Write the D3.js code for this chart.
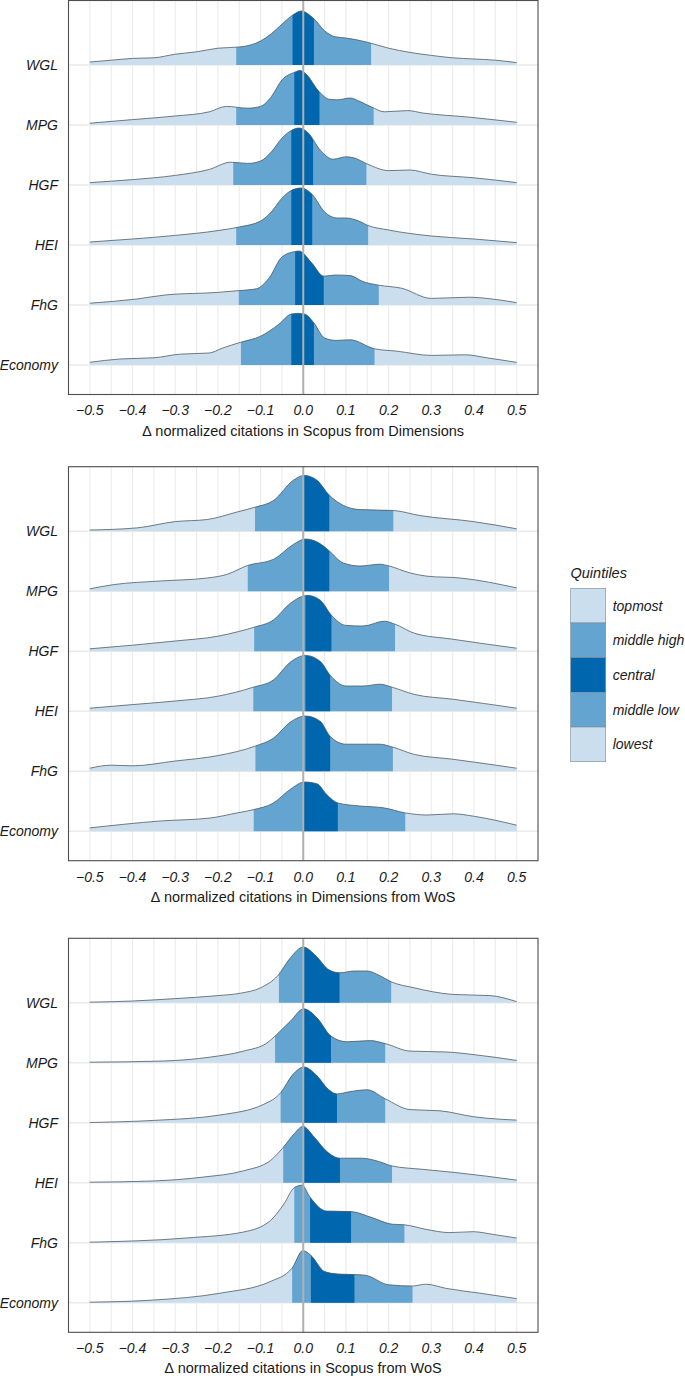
<!DOCTYPE html>
<html><head><meta charset="utf-8">
<script src="https://cdn.jsdelivr.net/npm/d3@7"></script>
<style>body{margin:0;background:#fff}svg{display:block}text{font-family:"Liberation Sans",Arial,sans-serif}</style>
</head><body><svg id="chart" width="685" height="1376"></svg>
<script>
// ---------- data ----------
const organisations = ["WGL","MPG","HGF","HEI","FhG","Economy"];
const xTicks = [-0.5,-0.4,-0.3,-0.2,-0.1,0.0,0.1,0.2,0.3,0.4,0.5];
const gridSteps = [-0.5,-0.45,-0.4,-0.35,-0.3,-0.25,-0.2,-0.15,-0.1,-0.05,0,0.05,0.1,0.15,0.2,0.25,0.3,0.35,0.4,0.45,0.5];
const panelTitles = ["normalized citations in Scopus from Dimensions","normalized citations in Dimensions from WoS","normalized citations in Scopus from WoS"];
const quintileLabels = ["topmost","middle high","central","middle low","lowest"];

// density (scaled, 1 = ridge spacing) as [delta, density]
const densScopusDim = [
 [[-0.5,.05],[-0.45,.08],[-0.4,.11],[-0.35,.12],[-0.3,.18],[-0.25,.22],[-0.2,.28],[-0.15,.30],[-0.1,.40],[-0.075,.52],[-0.05,.68],[-0.025,.83],[-0.005,.90],[0.025,.77],[0.05,.57],[0.075,.47],[0.1,.45],[0.125,.42],[0.15,.38],[0.2,.28],[0.25,.21],[0.3,.16],[0.35,.12],[0.4,.10],[0.45,.08],[0.5,.04]],
 [[-0.5,.03],[-0.4,.09],[-0.3,.15],[-0.22,.22],[-0.18,.31],[-0.13,.28],[-0.1,.31],[-0.075,.47],[-0.05,.75],[-0.02,.88],[-0.008,.91],[0.005,.86],[0.038,.55],[0.06,.43],[0.08,.42],[0.11,.45],[0.133,.39],[0.16,.30],[0.19,.22],[0.245,.24],[0.28,.20],[0.39,.13],[0.5,.045]],
 [[-0.5,.04],[-0.4,.09],[-0.3,.16],[-0.22,.26],[-0.17,.38],[-0.13,.36],[-0.1,.40],[-0.075,.55],[-0.05,.78],[-0.025,.92],[-0.01,.95],[0.01,.88],[0.04,.58],[0.07,.43],[0.1,.47],[0.12,.45],[0.15,.35],[0.2,.24],[0.25,.25],[0.3,.18],[0.4,.12],[0.5,.04]],
 [[-0.5,.05],[-0.4,.10],[-0.3,.16],[-0.2,.24],[-0.15,.30],[-0.1,.40],[-0.075,.55],[-0.05,.78],[-0.025,.92],[-0.005,.95],[0.02,.85],[0.05,.55],[0.08,.45],[0.1,.45],[0.13,.40],[0.15,.33],[0.2,.25],[0.3,.15],[0.4,.10],[0.5,.04]],
 [[-0.5,.03],[-0.39,.10],[-0.32,.17],[-0.2,.21],[-0.15,.24],[-0.11,.27],[-0.08,.45],[-0.05,.80],[-0.02,.89],[-0.01,.90],[0.02,.70],[0.048,.48],[0.075,.50],[0.11,.49],[0.14,.39],[0.177,.33],[0.23,.28],[0.3,.11],[0.39,.13],[0.43,.11],[0.5,.04]],
 [[-0.5,.045],[-0.43,.10],[-0.35,.12],[-0.29,.18],[-0.22,.20],[-0.19,.28],[-0.146,.38],[-0.1,.48],[-0.057,.68],[-0.028,.85],[-0.012,.86],[0.003,.85],[0.025,.70],[0.05,.45],[0.077,.41],[0.11,.42],[0.167,.27],[0.22,.23],[0.3,.16],[0.38,.17],[0.43,.12],[0.5,.045]]
];
const cutsScopusDim = [
 [-0.157,-0.025,0.025,0.159],[-0.157,-0.021,0.038,0.165],[-0.164,-0.028,0.023,0.148],
 [-0.157,-0.028,0.021,0.152],[-0.151,-0.019,0.048,0.177],[-0.146,-0.028,0.025,0.167]
];

const densDimWos = [
 [[-0.5,.02],[-0.39,.055],[-0.3,.16],[-0.225,.195],[-0.155,.32],[-0.113,.40],[-0.07,.51],[-0.023,.85],[0.002,.93],[0.032,.85],[0.061,.60],[0.094,.43],[0.133,.36],[0.211,.345],[0.274,.26],[0.399,.16],[0.5,.04]],
 [[-0.5,.04],[-0.444,.11],[-0.335,.17],[-0.225,.22],[-0.179,.28],[-0.13,.43],[-0.07,.53],[-0.023,.78],[0.005,.87],[0.048,.75],[0.061,.67],[0.094,.47],[0.133,.42],[0.18,.45],[0.201,.42],[0.25,.305],[0.29,.25],[0.368,.22],[0.5,.055]],
 [[-0.5,.04],[-0.4,.10],[-0.3,.17],[-0.2,.25],[-0.15,.33],[-0.115,.40],[-0.07,.52],[-0.03,.80],[0.01,.93],[0.04,.85],[0.066,.60],[0.1,.43],[0.14,.42],[0.19,.50],[0.215,.45],[0.26,.30],[0.35,.20],[0.5,.05]],
 [[-0.5,.05],[-0.4,.11],[-0.3,.17],[-0.2,.25],[-0.117,.40],[-0.07,.52],[-0.03,.82],[0.005,.93],[0.04,.83],[0.063,.60],[0.1,.42],[0.14,.42],[0.18,.45],[0.208,.40],[0.26,.28],[0.35,.20],[0.5,.05]],
 [[-0.5,.05],[-0.45,.10],[-0.4,.09],[-0.3,.17],[-0.2,.26],[-0.112,.42],[-0.07,.55],[-0.03,.82],[0.005,.92],[0.04,.83],[0.063,.58],[0.1,.45],[0.15,.45],[0.18,.45],[0.21,.40],[0.26,.28],[0.35,.20],[0.5,.05]],
 [[-0.5,.055],[-0.335,.17],[-0.218,.22],[-0.155,.305],[-0.116,.36],[-0.07,.47],[-0.03,.70],[0.003,.82],[0.032,.79],[0.055,.61],[0.081,.47],[0.133,.42],[0.188,.39],[0.239,.305],[0.29,.27],[0.352,.29],[0.399,.25],[0.5,.10]]
];
const cutsDimWos = [
 [-0.113,0.002,0.061,0.211],[-0.13,0.002,0.061,0.201],[-0.115,0.005,0.066,0.215],
 [-0.117,0.005,0.063,0.208],[-0.112,0.005,0.063,0.21],[-0.116,0.0,0.081,0.239]
];

const densScopusWos = [
 [[-0.5,.01],[-0.4,.03],[-0.3,.07],[-0.2,.12],[-0.147,.16],[-0.1,.25],[-0.06,.45],[-0.03,.75],[0.0,.93],[0.03,.78],[0.06,.55],[0.085,.50],[0.12,.53],[0.15,.53],[0.18,.45],[0.206,.35],[0.26,.25],[0.35,.14],[0.438,.12],[0.5,.02]],
 [[-0.5,.01],[-0.327,.03],[-0.218,.095],[-0.14,.195],[-0.085,.33],[-0.066,.445],[-0.03,.695],[0.001,.90],[0.032,.75],[0.065,.445],[0.102,.35],[0.157,.37],[0.192,.32],[0.25,.195],[0.336,.18],[0.407,.13],[0.5,.04]],
 [[-0.5,.005],[-0.35,.04],[-0.195,.13],[-0.092,.31],[-0.053,.50],[-0.025,.80],[0.002,.93],[0.03,.80],[0.06,.55],[0.079,.48],[0.11,.52],[0.15,.55],[0.192,.40],[0.25,.22],[0.32,.20],[0.4,.10],[0.5,.045]],
 [[-0.5,.01],[-0.353,.03],[-0.235,.095],[-0.14,.20],[-0.077,.37],[-0.047,.59],[-0.021,.82],[-0.001,.94],[0.026,.76],[0.054,.53],[0.086,.41],[0.137,.41],[0.177,.355],[0.208,.28],[0.279,.225],[0.358,.17],[0.5,.045]],
 [[-0.5,.01],[-0.274,.08],[-0.14,.18],[-0.077,.37],[-0.045,.65],[-0.021,.92],[-0.003,.96],[0.016,.76],[0.054,.53],[0.112,.52],[0.161,.42],[0.208,.31],[0.237,.30],[0.287,.225],[0.343,.17],[0.398,.185],[0.445,.14],[0.5,.08]],
 [[-0.5,.01],[-0.353,.045],[-0.195,.16],[-0.077,.355],[-0.026,.58],[-0.001,.87],[0.018,.79],[0.05,.52],[0.081,.48],[0.12,.47],[0.145,.46],[0.2,.30],[0.256,.28],[0.287,.31],[0.335,.24],[0.414,.16],[0.5,.07]]
];
const cutsScopusWos = [
 [-0.057,0.002,0.085,0.206],[-0.066,0.002,0.065,0.192],[-0.053,0.001,0.079,0.192],
 [-0.047,0.002,0.086,0.208],[-0.021,0.016,0.112,0.237],[-0.026,0.018,0.12,0.256]
];

// ---------- layout / style ----------
const colLight = "#cadeee", colMid = "#64a4d0", colDark = "#0067ae";
const panels = [
  {top: 0.5, dens: densScopusDim, cuts: cutsScopusDim, title: panelTitles[0]},
  {top: 466.7, dens: densDimWos, cuts: cutsDimWos, title: panelTitles[1]},
  {top: 938.3, dens: densScopusWos, cuts: cutsScopusWos, title: panelTitles[2]}
];
const L = 68.5, R = 538, PH = 394, rowGap = 60, bottomPad = 29.5;

const svg = d3.select("#chart");
const x = d3.scaleLinear().domain([-0.55, 0.55]).range([L, R]);
const h = d3.scaleLinear().domain([0, 1]).range([0, rowGap]);
let clipId = 0;

panels.forEach((p, pi) => {
  const bottom = p.top + PH;
  const y = d3.scalePoint().domain(organisations)
     .range([bottom - bottomPad - rowGap*(organisations.length-1), bottom - bottomPad]);
  const g = svg.append("g");

  // vertical grid
  g.selectAll("line.vg").data(gridSteps).join("line")
    .attr("x1", d => x(d)).attr("x2", d => x(d))
    .attr("y1", p.top).attr("y2", bottom)
    .attr("stroke", "#ebebeb").attr("stroke-width", 1.1);
  // horizontal grid at baselines
  g.selectAll("line.hg").data(organisations).join("line")
    .attr("x1", L).attr("x2", R)
    .attr("y1", d => y(d)).attr("y2", d => y(d))
    .attr("stroke", "#ebebeb").attr("stroke-width", 1.4);

  organisations.forEach((org, i) => {
    const dens = p.dens[i], q = p.cuts[i], base = y(org);
    const area = d3.area().curve(d3.curveMonotoneX)
      .x(d => x(d[0])).y0(base).y1(d => base - h(d[1]));
    const line = d3.line().curve(d3.curveMonotoneX)
      .x(d => x(d[0])).y(d => base - h(d[1]));
    g.append("path").attr("d", area(dens)).attr("fill", colLight);
    [[q[0], q[3], colMid], [q[1], q[2], colDark]].forEach(([a, b, c]) => {
      const id = "clip" + (clipId++);
      svg.append("clipPath").attr("id", id).append("rect")
        .attr("x", x(a)).attr("width", x(b) - x(a))
        .attr("y", base - rowGap*1.2).attr("height", rowGap*1.2 + 1);
      g.append("path").attr("d", area(dens)).attr("fill", c).attr("clip-path", `url(#${id})`);
    });
    g.append("path").attr("d", line(dens)).attr("fill", "none")
      .attr("stroke", "#4f5a63").attr("stroke-width", 0.8);
  });

  // zero line
  g.append("line").attr("x1", x(0)).attr("x2", x(0)).attr("y1", p.top).attr("y2", bottom)
    .attr("stroke", "#b0b0b0").attr("stroke-width", 2);

  // panel border
  g.append("rect").attr("x", L).attr("y", p.top).attr("width", R - L).attr("height", PH)
    .attr("fill", "none").attr("stroke", "#4d4d4d").attr("stroke-width", 1.1);

  // y labels
  g.selectAll("text.yl").data(organisations).join("text")
    .attr("x", 58).attr("y", d => y(d)).attr("dy", "0.35em")
    .attr("text-anchor", "end").attr("font-style", "italic").attr("font-size", 14)
    .attr("fill", "#1a1a1a").text(d => d);

  // x tick labels
  g.selectAll("text.xt").data(xTicks).join("text")
    .attr("x", d => x(d)).attr("y", bottom + 16).attr("dy", "0.35em")
    .attr("text-anchor", "middle").attr("font-style", "italic").attr("font-size", 14)
    .attr("fill", "#1a1a1a").text(d => d3.format(".1f")(d));

  // axis title
  g.append("text").attr("x", (L + R)/2).attr("y", bottom + 36).attr("dy", "0.35em")
    .attr("text-anchor", "middle").attr("font-size", 14.5).attr("fill", "#1a1a1a")
    .text("\u2206 " + p.title);
});

// legend
const legColors = [colLight, colMid, colDark, colMid, colLight];
const lg = svg.append("g");
lg.append("text").attr("x", 570.5).attr("y", 573).attr("dy", "0.35em")
  .attr("font-style", "italic").attr("font-size", 14.5).attr("fill", "#1a1a1a").text("Quintiles");
const ky = d3.scaleBand().domain(quintileLabels).range([588.3, 761.7]);
lg.selectAll("rect").data(quintileLabels).join("rect")
  .attr("x", 570.7).attr("y", d => ky(d)).attr("width", 35).attr("height", ky.bandwidth())
  .attr("fill", (d, i) => legColors[i]).attr("stroke", "#7a8a96").attr("stroke-width", 0.6);
lg.selectAll("text.lab").data(quintileLabels).join("text")
  .attr("x", 612.7).attr("y", d => ky(d) + ky.bandwidth()/2).attr("dy", "0.35em")
  .attr("font-style", "italic").attr("font-size", 14).attr("fill", "#1a1a1a").text(d => d);
</script></body></html>
